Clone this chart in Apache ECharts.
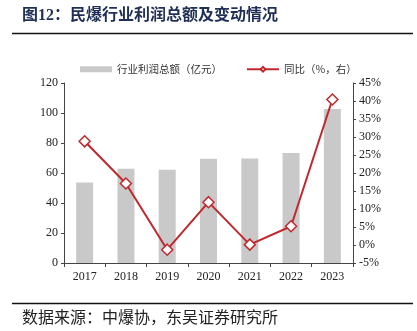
<!DOCTYPE html>
<html>
<head>
<meta charset="utf-8">
<script src="https://cdn.jsdelivr.net/npm/echarts@6/dist/echarts.min.js"></script>
<style>html,body{margin:0;padding:0;background:#fff;}#c{width:417px;height:331px;}</style>
</head>
<body>
<div id="c"></div>
<script>
var categories = ['2017', '2018', '2019', '2020', '2021', '2022', '2023'];
var profit = [53.7, 62.9, 62.2, 69.5, 69.6, 73.3, 102.7];
var yoy = [28.8, 17.1, -1.3, 11.9, 0.1, 5.2, 40.4];
var leftTicks = {min: 0, max: 120, interval: 20};
var rightTicks = {min: -5, max: 45, interval: 5};

var serif = "'Liberation Serif','Times New Roman','Noto Sans CJK SC',serif";
var chart = echarts.init(document.getElementById('c'), null, {renderer: 'canvas'});
chart.setOption({
  animation: false,
  backgroundColor: '#fff',
  graphic: [
    {type: 'text', left: 22, top: 8, style: {text: '图12：民爆行业利润总额及变动情况', font: "bold 16px 'Liberation Serif','Noto Sans CJK SC',serif", fill: '#1f2f55'}},
    {type: 'line', shape: {x1: 12, y1: 33.5, x2: 413, y2: 33.5}, style: {stroke: '#111', lineWidth: 1.5}},
    {type: 'line', shape: {x1: 12, y1: 303.5, x2: 413, y2: 303.5}, style: {stroke: '#111', lineWidth: 1.5}},
    {type: 'text', left: 22, top: 309, style: {text: '数据来源：中爆协，东吴证券研究所', font: "16px 'Noto Sans CJK SC',sans-serif", fill: '#222'}}
  ],
  legend: {
    top: 59,
    left: 75,
    itemGap: 24,
    textStyle: {fontFamily: "'Noto Sans CJK SC',sans-serif", fontSize: 10.5, color: '#333'},
    data: [
      {name: '行业利润总额（亿元）', icon: 'rect', itemStyle: {color: '#c9c9c9'}},
      {name: '同比（%，右）'}
    ],
    itemWidth: 32,
    itemHeight: 6
  },
  grid: {left: 64, right: 64, top: 83, bottom: 68},
  xAxis: {
    type: 'category',
    data: categories,
    axisLine: {lineStyle: {color: '#444'}},
    axisTick: {show: true, length: 4, lineStyle: {color: '#444'}},
    axisLabel: {fontFamily: serif, fontSize: 12, color: '#222', margin: 8}
  },
  yAxis: [
    {
      type: 'value', min: leftTicks.min, max: leftTicks.max, interval: leftTicks.interval,
      axisLine: {show: true, lineStyle: {color: '#444'}},
      axisTick: {show: true, length: 3, lineStyle: {color: '#444'}},
      splitLine: {show: false},
      axisLabel: {fontFamily: serif, fontSize: 12, color: '#222', margin: 6}
    },
    {
      type: 'value', min: rightTicks.min, max: rightTicks.max, interval: rightTicks.interval,
      axisLine: {show: true, lineStyle: {color: '#444'}},
      axisTick: {show: true, length: 3, lineStyle: {color: '#444'}},
      splitLine: {show: false},
      axisLabel: {fontFamily: serif, fontSize: 12, color: '#222', margin: 6, formatter: '{value}%'}
    }
  ],
  series: [
    {
      name: '行业利润总额（亿元）', type: 'bar', data: profit, yAxisIndex: 0,
      barWidth: 17, itemStyle: {color: '#c9c9c9'}
    },
    {
      name: '同比（%，右）', type: 'line', data: yoy, yAxisIndex: 1,
      symbol: 'diamond', symbolSize: 11, showAllSymbol: true,
      lineStyle: {color: '#c0282d', width: 2},
      itemStyle: {color: '#fff', borderColor: '#c0282d', borderWidth: 1.5}
    }
  ]
});
</script>
</body>
</html>
